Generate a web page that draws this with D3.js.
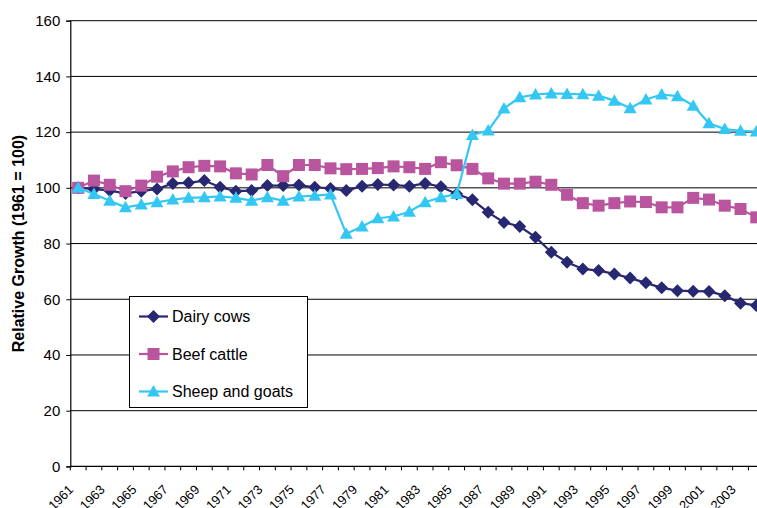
<!DOCTYPE html>
<html>
<head>
<meta charset="utf-8">
<script src="https://cdn.jsdelivr.net/npm/d3@7"></script>
<style>
  body { margin: 0; background: #fff; }
  svg { display: block; overflow: hidden; }
  text { font-family: Arial, "Liberation Sans", sans-serif; fill: #000; }
</style>
</head>
<body>
<svg id="chart" width="757" height="508"></svg>
<script>
// years shown on the category axis
const years = d3.range(1961, 2005);

// relative growth, 1961 = 100
const dairyCows = [100, 99.6, 99, 98, 98.8, 99.6, 101.6, 101.8, 102.6, 100.2, 98.8,
  99, 100.8, 100.8, 101, 100.2, 99.8, 99, 100.6, 101.2, 101, 100.6, 101.6, 100.4,
  97.8, 95.7, 91.2, 87.6, 86.1, 82.3, 76.9, 73.3, 70.9, 70.3, 69.1, 67.6, 65.9,
  64.1, 63.1, 62.9, 62.8, 61.3, 58.6, 57.8];
const beefCattle = [100, 102.6, 101.1, 98.8, 100.8, 104, 105.9, 107.4, 107.9, 107.7, 105.2,
  104.8, 108.2, 104.2, 108.2, 108.2, 107, 106.7, 106.8, 107.1, 107.7, 107.4, 106.8, 109.2,
  108.1, 106.8, 103.4, 101.5, 101.5, 102.2, 101.1, 97.5, 94.5, 93.6, 94.5, 95.1, 94.9,
  93, 93, 96.4, 95.8, 93.6, 92.4, 89.4];
const sheepGoats = [100, 97.8, 95.4, 93, 94, 94.8, 95.8, 96.4, 96.6, 96.9, 96.4,
  95.4, 96.6, 95.4, 96.9, 97.2, 97.6, 83.5, 86.1, 89.1, 89.7, 91.4, 94.8, 96.6,
  97.8, 119, 120.6, 128.5, 132.5, 133.5, 133.9, 133.7, 133.6, 133.1, 131.3, 128.6, 131.7,
  133.5, 132.9, 129.5, 123.2, 121.1, 120.5, 120.2];

const seriesNames = ["Dairy cows", "Beef cattle", "Sheep and goats"];
const seriesColors = ["#282872", "#b9549e", "#35c7f4"];
const seriesValues = [dairyCows, beefCattle, sheepGoats];
const yTicks = [0, 20, 40, 60, 80, 100, 120, 140, 160];

const svg = d3.select("#chart");
const plotLeft = 70.3, plotTop = 20.7, plotBottom = 466.4, step = 15.77;

let x = d3.scaleBand().domain(years).range([plotLeft, plotLeft + years.length * step]).padding(0);
let y = d3.scaleLinear().domain([0, 160]).range([plotBottom, plotTop]);

// gridlines
svg.append("g").selectAll("line").data(yTicks.filter(d => d > 0)).join("line")
  .attr("x1", plotLeft).attr("x2", plotLeft + years.length * step)
  .attr("y1", d => y(d)).attr("y2", d => y(d))
  .attr("stroke", "#000").attr("stroke-width", 1);

// y axis
let yAxis = svg.append("g").attr("transform", `translate(${plotLeft},0)`)
  .call(d3.axisLeft(y).tickValues(yTicks).tickSize(4).tickPadding(6));
yAxis.select(".domain").attr("stroke", "#000").attr("stroke-width", 1.2);
yAxis.selectAll(".tick line").attr("stroke", "#000");
yAxis.selectAll(".tick text").style("font-size", "15px").attr("font-family", null);

// x axis: ticks at band edges, labels every second year
let edges = years.map(d => x(d)).concat([x(years[years.length - 1]) + step]);
let xg = svg.append("g");
xg.append("line").attr("x1", plotLeft).attr("x2", edges[edges.length - 1])
  .attr("y1", plotBottom).attr("y2", plotBottom).attr("stroke", "#000").attr("stroke-width", 1.2);
xg.selectAll("line.tk").data(edges).join("line").attr("class", "tk")
  .attr("x1", d => d).attr("x2", d => d)
  .attr("y1", plotBottom).attr("y2", plotBottom + 4).attr("stroke", "#000");
xg.selectAll("text").data(years.filter((d, i) => i % 2 === 0)).join("text")
  .attr("transform", d => `translate(${x(d) + x.bandwidth() / 2 - 4},${plotBottom + 24}) rotate(-45)`)
  .attr("text-anchor", "end")
  .style("font-size", "13px").text(d => d);

// y axis title
svg.append("text")
  .attr("transform", `translate(24,${(plotTop + plotBottom) / 2}) rotate(-90)`)
  .attr("text-anchor", "middle").style("font-size", "16px").style("font-weight", "bold")
  .text("Relative Growth (1961 = 100)");

// marker shapes
function marker(i) {
  if (i === 0) return "M0,-6.5L6.5,0L0,6.5L-6.5,0Z";
  if (i === 1) return "M-6,-6L6,-6L6,6L-6,6Z";
  return "M0,-6.5L6.5,5L-6.5,5Z";
}

let line = d3.line().x((d, i) => x(years[i]) + x.bandwidth() / 2).y(d => y(d));

seriesValues.forEach(function (vals, k) {
  let g = svg.append("g");
  g.append("path").datum(vals).attr("d", line)
    .attr("fill", "none").attr("stroke", seriesColors[k]).attr("stroke-width", 2.2);
  g.selectAll("path.m").data(vals).join("path").attr("class", "m")
    .attr("transform", (d, i) => `translate(${x(years[i]) + x.bandwidth() / 2},${y(d)})`)
    .attr("d", marker(k)).attr("fill", seriesColors[k]);
});

// legend
let lg = svg.append("g");
lg.append("rect").attr("x", 129.5).attr("y", 296.5).attr("width", 178).attr("height", 111)
  .attr("fill", "#fff").attr("stroke", "#000").attr("stroke-width", 1);
seriesNames.forEach(function (name, k) {
  let cy = 316.5 + k * 37.5;
  lg.append("line").attr("x1", 139).attr("x2", 168).attr("y1", cy).attr("y2", cy)
    .attr("stroke", seriesColors[k]).attr("stroke-width", 2.2);
  lg.append("path").attr("transform", `translate(153.5,${cy})`).attr("d", marker(k))
    .attr("fill", seriesColors[k]);
  lg.append("text").attr("x", 172).attr("y", cy).attr("dy", "0.36em")
    .style("font-size", "16px").text(name);
});
</script>
</body>
</html>
